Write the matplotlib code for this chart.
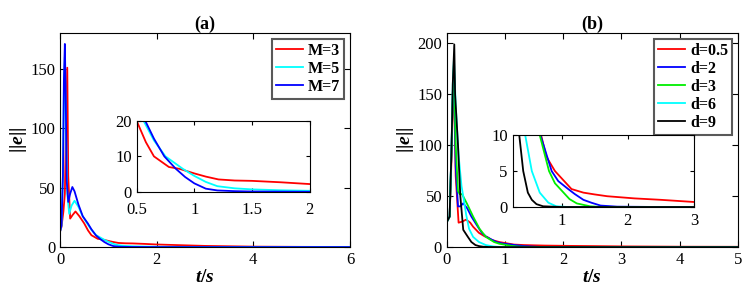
import matplotlib
matplotlib.use('Agg')
import matplotlib.pyplot as plt

plt.rcParams['font.family'] = 'Liberation Serif'
plt.rcParams['mathtext.fontset'] = 'custom'
plt.rcParams['mathtext.rm'] = 'Liberation Serif:bold'
plt.rcParams['mathtext.it'] = 'Liberation Serif:bold:italic'
plt.rcParams['xtick.direction'] = 'in'
plt.rcParams['ytick.direction'] = 'in'
plt.rcParams['xtick.top'] = True
plt.rcParams['ytick.right'] = True

# ---- panel (a): different M ----
t_m7 = [0, 0.03, 0.06, 0.08, 0.1, 0.12, 0.14, 0.17, 0.21, 0.255, 0.3, 0.38, 0.47, 0.575, 0.65,
        0.74, 0.84, 0.92, 1.0, 1.1, 1.2, 1.35, 1.5, 2, 3, 6]
e_m7 = [13, 18, 60, 140, 171, 120, 55, 38, 45, 50.6, 47, 36, 26, 20, 15,
        10, 6.5, 4.2, 2.4, 0.9, 0.4, 0.2, 0.1, 0.03, 0, 0]
t_m5 = [0, 0.03, 0.06, 0.08, 0.1, 0.12, 0.15, 0.19, 0.24, 0.3, 0.38, 0.47, 0.56, 0.65, 0.75,
        0.9, 1.0, 1.1, 1.2, 1.35, 1.5, 1.75, 2, 3, 6]
e_m5 = [13, 18, 60, 130, 160, 110, 45, 28, 35, 39, 34, 26, 20, 14.5, 10,
        6.5, 4.5, 2.8, 1.6, 1.0, 0.7, 0.45, 0.3, 0.1, 0]
t_m3 = [0, 0.03, 0.07, 0.1, 0.12, 0.15, 0.17, 0.21, 0.26, 0.32, 0.4, 0.5, 0.58, 0.65, 0.78,
        0.87, 1.0, 1.1, 1.21, 1.35, 1.5, 1.75, 2, 2.5, 3, 4, 5, 6]
e_m3 = [13, 17, 30, 45, 90, 151, 60, 24, 27, 30, 26, 20, 14, 10, 7,
        6.5, 5.2, 4.3, 3.5, 3.2, 3.1, 2.7, 2.2, 1.6, 1.0, 0.4, 0.2, 0.1]

# ---- panel (b): different d ----
t_d9 = [0, 0.046, 0.08, 0.1, 0.126, 0.14, 0.19, 0.23, 0.28, 0.36, 0.42, 0.49, 0.55, 0.62,
        0.72, 1, 5]
e_d9 = [25, 30, 100, 160, 199, 150, 100, 50, 17, 10, 5, 2, 1, 0.4, 0.1, 0, 0]
t_d6 = [0, 0.046, 0.08, 0.1, 0.12, 0.15, 0.2, 0.25, 0.28, 0.33, 0.38, 0.45, 0.55, 0.67, 0.8,
        0.92, 1.1, 5]
e_d6 = [25, 30, 100, 160, 185, 140, 90, 60, 50, 32, 18, 10, 5, 2, 0.6,
        0.1, 0, 0]
t_d3 = [0, 0.046, 0.08, 0.1, 0.12, 0.15, 0.19, 0.22, 0.26, 0.35, 0.45, 0.56, 0.67, 0.81, 0.9,
        1.03, 1.12, 1.23, 1.43, 1.6, 5]
e_d3 = [25, 30, 100, 150, 180, 100, 55, 52, 52, 42, 30, 18, 10, 5, 3.3,
        2, 1.1, 0.5, 0.1, 0, 0]
t_d2 = [0, 0.046, 0.08, 0.1, 0.12, 0.15, 0.19, 0.23, 0.28, 0.35, 0.42, 0.52, 0.6, 0.68, 0.85,
        0.95, 1.1, 1.2, 1.33, 1.45, 1.59, 1.84, 2.5, 5]
e_d2 = [25, 30, 100, 150, 175, 80, 40, 40, 43, 38, 30, 21, 14, 10, 5,
        3.6, 2.5, 1.8, 1.0, 0.6, 0.2, 0.05, 0, 0]
t_d05 = [0, 0.046, 0.08, 0.1, 0.12, 0.15, 0.2, 0.26, 0.33, 0.4, 0.45, 0.55, 0.65, 0.69, 0.77,
         0.9, 1.0, 1.15, 1.33, 1.5, 1.69, 2.1, 2.5, 3, 4, 5]
e_d05 = [25, 30, 90, 140, 170, 70, 24, 25, 27, 24, 20, 14, 10.5, 10, 7,
         5, 4, 2.5, 2, 1.75, 1.5, 1.2, 1.0, 0.7, 0.4, 0.3]

series_a = [(t_m3, e_m3, 'red', 'M=3'), (t_m5, e_m5, 'cyan', 'M=5'), (t_m7, e_m7, 'blue', 'M=7')]
series_b = [(t_d05, e_d05, 'red', 'd=0.5'), (t_d2, e_d2, 'blue', 'd=2'), (t_d3, e_d3, '#00ee00', 'd=3'),
            (t_d6, e_d6, 'cyan', 'd=6'), (t_d9, e_d9, 'black', 'd=9')]

fig = plt.figure(figsize=(7.55, 2.97), dpi=100)
ax_a = fig.add_axes([0.0795, 0.168, 0.384, 0.72])
ax_b = fig.add_axes([0.592, 0.168, 0.385, 0.72])
in_a = fig.add_axes([0.181, 0.354, 0.229, 0.239])
in_b = fig.add_axes([0.679, 0.303, 0.240, 0.242])

for ax, series, inset in [(ax_a, series_a, in_a), (ax_b, series_b, in_b)]:
    for t, e, c, lab in series:
        ax.plot(t, e, color=c, lw=1.3, label=lab)
        inset.plot(t, e, color=c, lw=1.3)
    ax.tick_params(labelsize=12, length=4)
    inset.tick_params(labelsize=12, length=3)
    inset.tick_params(axis='x', pad=4)
    ax.set_xlabel('$t/s$', fontsize=14, labelpad=1)
    ax.set_ylabel('||$e$||', fontsize=14, fontweight='bold', labelpad=1)
    leg = ax.legend(loc='upper right', fancybox=False, framealpha=1, edgecolor='0.35',
                    prop={'weight': 'bold', 'size': 11.5}, handlelength=1.7,
                    handletextpad=0.3, labelspacing=0.12, borderpad=0.25,
                    borderaxespad=0.35)
    leg.get_frame().set_linewidth(1.5)

ax_a.set_xlim(0, 6)
ax_a.set_ylim(0, 180)
ax_a.set_xticks([0, 2, 4, 6])
ax_a.set_yticks([0, 50, 100, 150])
ax_a.set_title('(a)', fontsize=13, fontweight='bold', pad=3)
in_a.set_xlim(0.5, 2)
in_a.set_ylim(0, 20)
in_a.set_xticks([0.5, 1, 1.5, 2])
in_a.set_xticklabels(['0.5', '1', '1.5', '2'])
in_a.set_yticks([0, 10, 20])
in_a.tick_params(axis='x', pad=7)

ax_b.set_xlim(0, 5)
ax_b.set_ylim(0, 210)
ax_b.set_xticks([0, 1, 2, 3, 4, 5])
ax_b.set_yticks([0, 50, 100, 150, 200])
ax_b.set_title('(b)', fontsize=13, fontweight='bold', pad=3)
in_b.set_xlim(0.26, 3)
in_b.set_ylim(0, 10)
in_b.set_xticks([1, 2, 3])
in_b.set_yticks([0, 5, 10])

fig.savefig('out.png', dpi=100)
